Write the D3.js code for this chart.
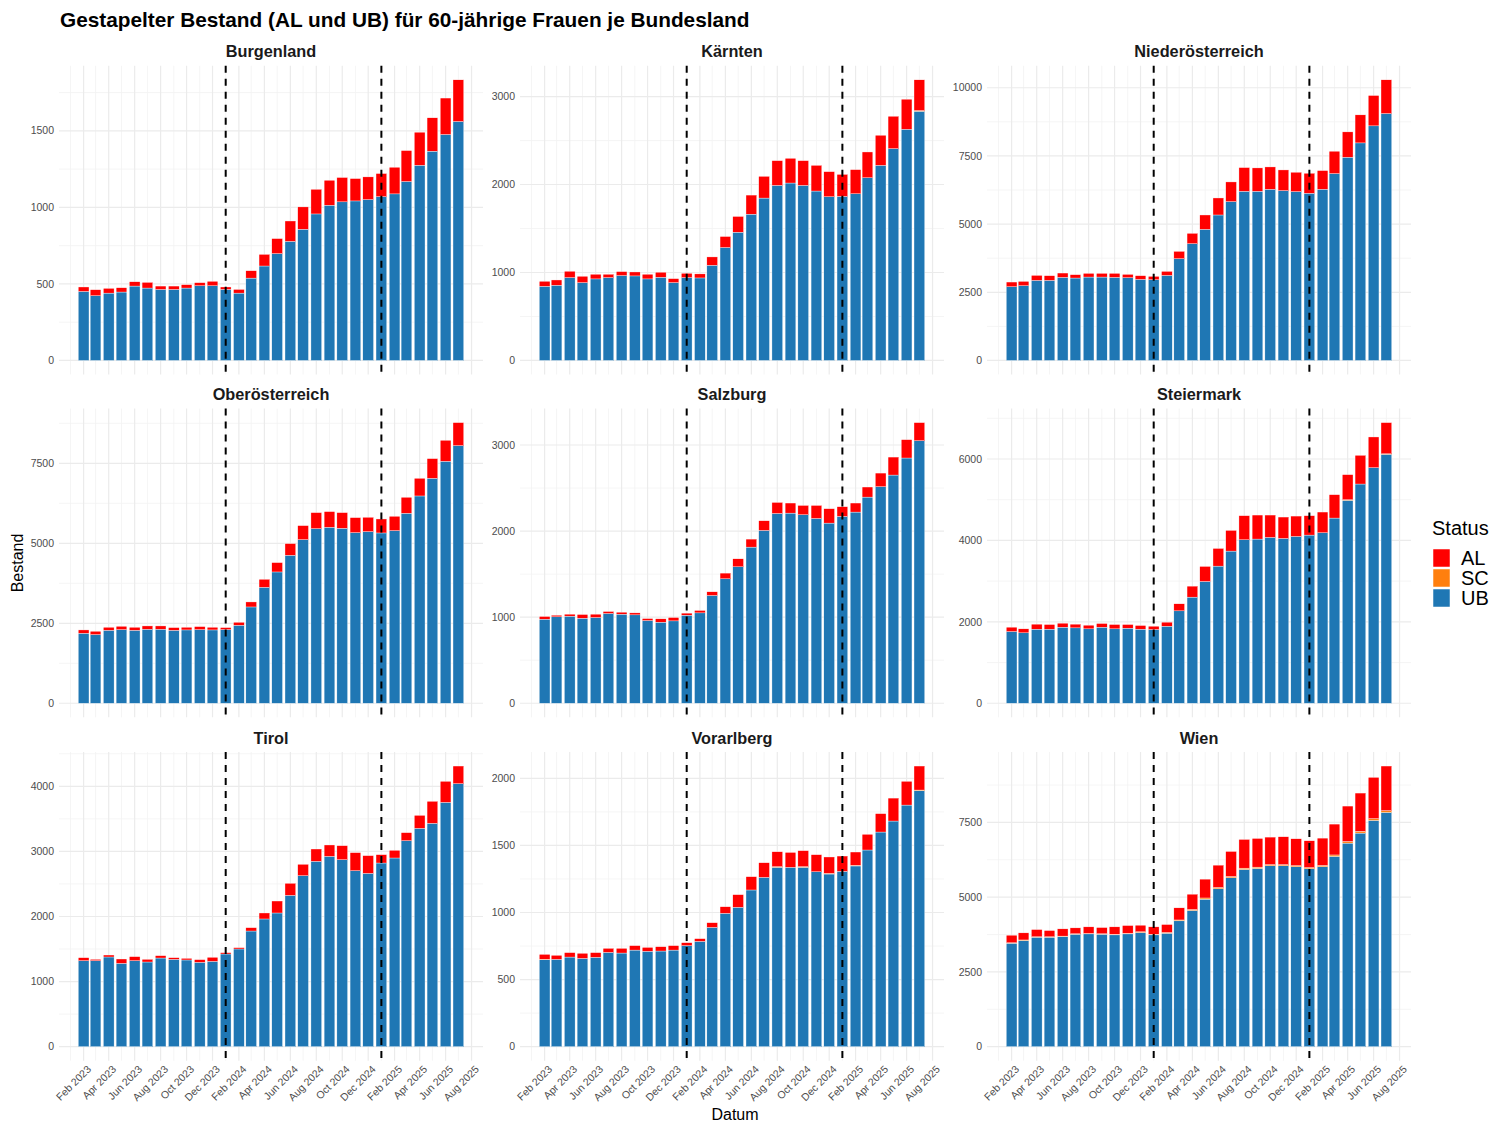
<!DOCTYPE html>
<html><head><meta charset="utf-8">
<script src="https://cdn.jsdelivr.net/npm/d3@7"></script>
<style>body{margin:0;background:#fff} text{font-family:"Liberation Sans",Arial,Helvetica,sans-serif}</style>
</head><body><svg id="c" width="1494" height="1122"></svg>
<script>
// ---------- data ----------
const months = ["2023-02","2023-03","2023-04","2023-05","2023-06","2023-07","2023-08","2023-09","2023-10","2023-11","2023-12",
"2024-01","2024-02","2024-03","2024-04","2024-05","2024-06","2024-07","2024-08","2024-09","2024-10","2024-11","2024-12",
"2025-01","2025-02","2025-03","2025-04","2025-05","2025-06","2025-07"];
const states = ["Burgenland","Kärnten","Niederösterreich","Oberösterreich","Salzburg","Steiermark","Tirol","Vorarlberg","Wien"];
const statusKeys = ["UB","SC","AL"];
const legendOrder = ["AL","SC","UB"];
const statusColors = ["#1f77b4","#ff7f0e","#ff0000"];
const xTickMonths = ["2023-02","2023-04","2023-06","2023-08","2023-10","2023-12","2024-02","2024-04","2024-06","2024-08","2024-10","2024-12","2025-02","2025-04","2025-06","2025-08"];
const xTickLabels = ["Feb 2023","Apr 2023","Jun 2023","Aug 2023","Oct 2023","Dec 2023","Feb 2024","Apr 2024","Jun 2024","Aug 2024","Oct 2024","Dec 2024","Feb 2025","Apr 2025","Jun 2025","Aug 2025"];
const vlineDates = ["2024-01","2025-01"];

const ubBurgenland = [451,423,440,447,486,473,464,464,473,488,488,464,440,538,617,698,778,857,957,1014,1036,1042,1051,1070,1088,1169,1275,1367,1476,1561];
const scBurgenland = [0,0,0,0,0,0,0,0,0,0,0,0,0,0,0,0,0,0,0,0,0,0,0,0,0,0,0,0,0,0];
const alBurgenland = [29,39,31,28,28,37,22,22,22,20,29,16,24,48,76,98,133,146,161,163,159,146,148,151,174,202,216,218,238,272];

const ubKaernten = [843,855,942,885,927,942,965,961,927,946,885,942,938,1082,1284,1458,1663,1846,1990,2017,1990,1926,1861,1865,1895,2077,2218,2408,2628,2833];
const scKaernten = [0,0,0,0,0,0,0,0,0,0,0,0,0,0,0,0,0,0,0,0,0,0,0,0,0,0,0,0,0,8];
const alKaernten = [57,60,72,72,53,38,45,45,53,57,45,49,46,95,125,179,217,247,281,281,281,292,285,250,274,293,342,368,342,349];

const ubNiederoesterreich = [2704,2741,2937,2937,3047,3023,3059,3059,3047,3035,2974,2961,3120,3732,4283,4809,5335,5825,6204,6204,6278,6229,6192,6131,6278,6853,7452,7978,8603,9055];
const scNiederoesterreich = [0,0,0,0,0,0,0,0,0,0,0,0,0,0,0,0,0,0,0,0,0,0,0,0,0,0,0,0,0,0];
const alNiederoesterreich = [172,159,183,171,159,122,135,135,147,122,134,123,147,269,379,526,624,722,869,857,819,758,710,734,685,820,930,1028,1113,1236];

const ubOberoesterreich = [2188,2146,2281,2302,2281,2313,2313,2281,2292,2302,2292,2302,2438,3010,3625,4104,4625,5115,5458,5500,5469,5333,5365,5323,5396,5938,6479,7031,7563,8052];
const scOberoesterreich = [0,0,0,0,0,0,0,0,0,0,0,0,0,0,0,0,0,0,0,0,0,0,0,0,0,0,0,0,0,0];
const alOberoesterreich = [104,104,94,104,94,104,104,84,83,94,83,63,93,157,250,292,365,437,500,490,489,469,448,437,448,500,552,615,656,719];

const ubSalzburg = [977,1004,1012,988,996,1043,1035,1027,961,942,957,1023,1050,1252,1446,1585,1814,2008,2205,2209,2190,2147,2093,2171,2221,2395,2516,2651,2849,3050];
const scSalzburg = [0,0,0,0,0,0,0,0,0,0,0,0,0,0,0,0,0,0,0,0,0,0,0,0,0,0,0,0,0,0];
const alSalzburg = [31,19,23,43,39,23,23,23,23,39,39,24,28,43,66,93,93,112,128,117,108,151,167,112,105,117,158,209,213,210];

const ubSteiermark = [1762,1730,1820,1820,1869,1852,1828,1869,1828,1844,1820,1811,1893,2270,2607,2992,3369,3738,4016,4033,4074,4049,4098,4131,4189,4549,4984,5385,5787,6115];
const scSteiermark = [0,0,0,0,0,0,0,0,0,0,0,0,0,0,0,0,0,0,0,0,0,0,0,0,0,0,15,0,0,12];
const alSteiermark = [107,98,123,114,98,91,90,90,106,90,90,82,99,173,270,369,434,508,591,590,549,525,500,476,508,574,616,705,754,766];

const ubTirol = [1321,1321,1378,1280,1321,1301,1362,1342,1332,1296,1311,1424,1501,1777,1962,2054,2325,2627,2848,2924,2873,2704,2663,2822,2899,3165,3355,3432,3754,4041];
const scTirol = [0,0,0,0,0,0,0,0,0,0,0,0,0,0,0,0,0,0,0,0,0,0,0,0,0,0,0,0,0,0];
const alTirol = [46,21,30,67,62,41,36,25,25,41,62,20,20,51,92,184,185,175,189,175,215,277,272,128,118,123,199,338,323,271];

const ubVorarlberg = [648,651,668,658,666,703,698,720,711,713,720,753,785,889,994,1039,1168,1262,1337,1337,1337,1304,1287,1307,1347,1466,1600,1682,1801,1908];
const scVorarlberg = [4,0,0,0,0,0,0,0,0,0,0,0,0,0,0,0,0,0,5,0,5,0,5,0,5,0,0,0,0,5];
const alVorarlberg = [36,30,33,38,35,30,35,33,29,32,33,22,20,35,49,94,99,109,111,111,119,127,122,114,99,117,137,171,177,179];

const ubWien = [3460,3549,3661,3661,3683,3761,3772,3761,3739,3772,3817,3739,3795,4208,4554,4933,5279,5647,5926,5960,6049,6049,6016,5949,6016,6362,6808,7143,7567,7835];
const scWien = [15,20,15,15,15,15,15,15,20,20,25,20,25,30,35,40,45,45,45,45,40,40,40,40,45,50,55,60,60,60];
const alWien = [253,237,241,208,242,197,220,208,248,259,220,248,265,405,511,630,747,837,960,959,920,931,897,897,914,1032,1184,1279,1380,1491];

const yTicksBurgenland = [0,500,1000,1500];
const yTicksKaernten = [0,1000,2000,3000];
const yTicksNiederoesterreich = [0,2500,5000,7500,10000];
const yTicksOberoesterreich = [0,2500,5000,7500];
const yTicksSalzburg = [0,1000,2000,3000];
const yTicksSteiermark = [0,2000,4000,6000];
const yTicksTirol = [0,1000,2000,3000,4000];
const yTicksVorarlberg = [0,500,1000,1500,2000];
const yTicksWien = [0,2500,5000,7500];

const panelData = [
  {ub:ubBurgenland, sc:scBurgenland, al:alBurgenland, ticks:yTicksBurgenland},
  {ub:ubKaernten, sc:scKaernten, al:alKaernten, ticks:yTicksKaernten},
  {ub:ubNiederoesterreich, sc:scNiederoesterreich, al:alNiederoesterreich, ticks:yTicksNiederoesterreich},
  {ub:ubOberoesterreich, sc:scOberoesterreich, al:alOberoesterreich, ticks:yTicksOberoesterreich},
  {ub:ubSalzburg, sc:scSalzburg, al:alSalzburg, ticks:yTicksSalzburg},
  {ub:ubSteiermark, sc:scSteiermark, al:alSteiermark, ticks:yTicksSteiermark},
  {ub:ubTirol, sc:scTirol, al:alTirol, ticks:yTicksTirol},
  {ub:ubVorarlberg, sc:scVorarlberg, al:alVorarlberg, ticks:yTicksVorarlberg},
  {ub:ubWien, sc:scWien, al:alWien, ticks:yTicksWien}
];

// ---------- layout ----------
const svg = d3.select("#c");
const colLeft = [59, 520, 987];
const rowTop = [65.8, 408.6, 752];
const panelW = 424, panelH = 308.7;
const parse = d3.utcParse("%Y-%m");
const DAY = 864e5;
const halfBar = 12.6 * DAY;
const dates = months.map(parse);
const d0 = +dates[0] - halfBar, d1 = +dates[dates.length-1] + halfBar;
const ex = (d1 - d0) * 0.05;
const xDomain = [new Date(d0 - ex), new Date(d1 + ex)];
const color = d3.scaleOrdinal().domain(statusKeys).range(statusColors);

// title
svg.append("text").attr("x", 60).attr("y", 27).attr("font-size", 20.8).attr("font-weight", "bold")
  .attr("fill", "#000").text("Gestapelter Bestand (AL und UB) für 60-jährige Frauen je Bundesland");

// all months for minor grid
const gridMonths = d3.utcMonth.range(new Date(Date.UTC(2022,11,1)), new Date(Date.UTC(2025,9,1)));

states.forEach((st, i) => {
  const pd = panelData[i];
  const col = i % 3, row = Math.floor(i / 3);
  const L = colLeft[col], T = rowTop[row];
  const g = svg.append("g").attr("transform", `translate(${L},${T})`);
  const rows = months.map((m, j) => ({date: dates[j], UB: pd.ub[j], SC: pd.sc[j], AL: pd.al[j]}));
  const maxTot = d3.max(rows, r => r.UB + r.SC + r.AL);
  const y = d3.scaleLinear().domain([-0.05 * maxTot, 1.05 * maxTot]).range([panelH, 0]);
  const x = d3.scaleUtc().domain(xDomain).range([0, panelW]);

  // minor horizontal grid
  const step = pd.ticks[1] - pd.ticks[0];
  const minorY = [];
  for (let v = step / 2; v < 1.05 * maxTot; v += step) minorY.push(v);
  g.selectAll(".minh").data(minorY).join("line")
    .attr("x1", 0).attr("x2", panelW).attr("y1", d => y(d)).attr("y2", d => y(d))
    .attr("stroke", "#f3f3f3").attr("stroke-width", 0.8);
  // vertical grid
  const majorSet = new Set(xTickMonths);
  const fmt = d3.utcFormat("%Y-%m");
  g.selectAll(".vg").data(gridMonths.filter(d => x(d) >= 0 && x(d) <= panelW)).join("line")
    .attr("x1", d => x(d)).attr("x2", d => x(d)).attr("y1", 0).attr("y2", panelH)
    .attr("stroke", d => majorSet.has(fmt(d)) ? "#ebebeb" : "#f3f3f3")
    .attr("stroke-width", d => majorSet.has(fmt(d)) ? 1.2 : 0.8);
  // major horizontal grid
  g.selectAll(".majh").data(pd.ticks).join("line")
    .attr("x1", 0).attr("x2", panelW).attr("y1", d => y(d)).attr("y2", d => y(d))
    .attr("stroke", "#ebebeb").attr("stroke-width", 1.2);

  // y tick labels
  g.selectAll(".yl").data(pd.ticks).join("text")
    .attr("x", -5).attr("y", d => y(d)).attr("dy", "0.35em").attr("text-anchor", "end")
    .attr("font-size", 10.5).attr("fill", "#4d4d4d").text(d => d);

  // x tick labels (bottom row only)
  if (row === 2) {
    g.selectAll(".xl").data(xTickMonths).join("text")
      .attr("transform", (d) => `translate(${x(parse(d)) + 3},${panelH + 4}) rotate(-45)`)
      .attr("text-anchor", "end").attr("dy", "0.7em")
      .attr("font-size", 10.5).attr("fill", "#4d4d4d")
      .text((d, k) => xTickLabels[k]);
  }

  // stacked bars
  const series = d3.stack().keys(statusKeys)(rows);
  g.selectAll(".s").data(series).join("g").attr("fill", s => color(s.key))
    .selectAll("rect").data(s => s).join("rect")
    .attr("x", d => x(new Date(+d.data.date - halfBar)))
    .attr("width", d => x(new Date(+d.data.date + halfBar)) - x(new Date(+d.data.date - halfBar)))
    .attr("y", d => y(d[1]))
    .attr("height", d => Math.max(0, y(d[0]) - y(d[1])))
    .attr("stroke", "#ffffff").attr("stroke-width", 0.35);

  // dashed vertical lines
  g.selectAll(".vl").data(vlineDates).join("line")
    .attr("x1", d => x(parse(d))).attr("x2", d => x(parse(d)))
    .attr("y1", 0).attr("y2", panelH)
    .attr("stroke", "#000").attr("stroke-width", 2).attr("stroke-dasharray", "7,6");

  // strip title
  g.append("text").attr("x", panelW / 2).attr("y", -8.5).attr("text-anchor", "middle")
    .attr("font-size", 16.3).attr("font-weight", "bold").attr("fill", "#1a1a1a").text(st);
});

// axis titles
svg.append("text").attr("x", 735).attr("y", 1120).attr("text-anchor", "middle")
  .attr("font-size", 16).attr("fill", "#000").text("Datum");
svg.append("text").attr("transform", "translate(23,563) rotate(-90)").attr("text-anchor", "middle")
  .attr("font-size", 16).attr("fill", "#000").text("Bestand");

// legend
const lg = svg.append("g");
lg.append("text").attr("x", 1432).attr("y", 535).attr("font-size", 20).attr("fill", "#000").text("Status");
legendOrder.forEach((k, j) => {
  lg.append("rect").attr("x", 1433).attr("y", 549 + j * 20).attr("width", 17).attr("height", 18)
    .attr("fill", color(k)).attr("stroke", "#fff").attr("stroke-width", 0.5);
  lg.append("text").attr("x", 1461).attr("y", 558 + j * 20).attr("dy", "0.36em")
    .attr("font-size", 20).attr("fill", "#000").text(k);
});
</script></body></html>
